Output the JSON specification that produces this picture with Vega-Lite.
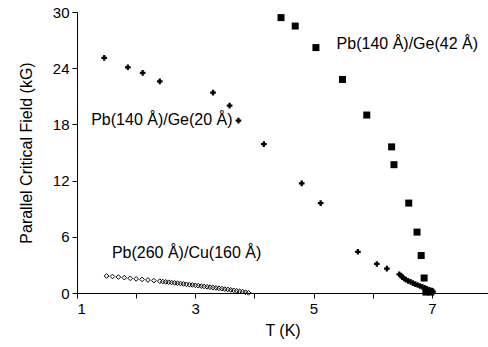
{
  "$schema": "https://vega.github.io/schema/vega-lite/v6.json",
  "width": 411,
  "height": 281,
  "autosize": "none",
  "padding": {"left": 77, "top": 12, "right": 0, "bottom": 54},
  "background": "white",
  "config": {
    "view": {"stroke": null},
    "font": "Liberation Sans",
    "axis": {
      "domainColor": "black",
      "tickColor": "black",
      "labelColor": "black",
      "titleColor": "black",
      "labelFont": "Liberation Sans",
      "titleFont": "Liberation Sans",
      "labelFontSize": 15,
      "titleFontSize": 16,
      "titleFontWeight": "normal",
      "grid": false,
      "tickSize": 5
    }
  },
  "datasets": {
    "pts": [
      {"T": 1.46, "H": 25.1, "s": "Ge20"},
      {"T": 1.86, "H": 24.1, "s": "Ge20"},
      {"T": 2.11, "H": 23.5, "s": "Ge20"},
      {"T": 2.40, "H": 22.6, "s": "Ge20"},
      {"T": 3.30, "H": 21.4, "s": "Ge20"},
      {"T": 3.58, "H": 20.0, "s": "Ge20"},
      {"T": 3.73, "H": 18.4, "s": "Ge20"},
      {"T": 4.16, "H": 15.9, "s": "Ge20"},
      {"T": 4.80, "H": 11.7, "s": "Ge20"},
      {"T": 5.12, "H": 9.6, "s": "Ge20"},
      {"T": 5.75, "H": 4.4, "s": "Ge20"},
      {"T": 6.07, "H": 3.1, "s": "Ge20"},
      {"T": 6.24, "H": 2.6, "s": "Ge20"},
      {"T": 6.45, "H": 2.0, "s": "Ge20"},
      {"T": 6.48, "H": 1.85, "s": "Ge20"},
      {"T": 6.50, "H": 1.7, "s": "Ge20"},
      {"T": 6.53, "H": 1.55, "s": "Ge20"},
      {"T": 6.56, "H": 1.42, "s": "Ge20"},
      {"T": 6.60, "H": 1.3, "s": "Ge20"},
      {"T": 6.64, "H": 1.18, "s": "Ge20"},
      {"T": 6.68, "H": 1.06, "s": "Ge20"},
      {"T": 6.72, "H": 0.95, "s": "Ge20"},
      {"T": 6.76, "H": 0.85, "s": "Ge20"},
      {"T": 6.80, "H": 0.75, "s": "Ge20"},
      {"T": 6.84, "H": 0.65, "s": "Ge20"},
      {"T": 6.88, "H": 0.55, "s": "Ge20"},
      {"T": 6.92, "H": 0.45, "s": "Ge20"},
      {"T": 6.96, "H": 0.35, "s": "Ge20"},
      {"T": 7.00, "H": 0.25, "s": "Ge20"},
      {"T": 7.02, "H": 0.15, "s": "Ge20"},
      {"T": 4.45, "H": 29.4, "s": "Ge42"},
      {"T": 4.69, "H": 28.5, "s": "Ge42"},
      {"T": 5.04, "H": 26.2, "s": "Ge42"},
      {"T": 5.49, "H": 22.8, "s": "Ge42"},
      {"T": 5.90, "H": 19.0, "s": "Ge42"},
      {"T": 6.32, "H": 15.6, "s": "Ge42"},
      {"T": 6.36, "H": 13.7, "s": "Ge42"},
      {"T": 6.61, "H": 9.6, "s": "Ge42"},
      {"T": 6.75, "H": 6.5, "s": "Ge42"},
      {"T": 6.82, "H": 4.0, "s": "Ge42"},
      {"T": 6.87, "H": 1.6, "s": "Ge42"},
      {"T": 6.90, "H": 0.1, "s": "Ge42"},
      {"T": 6.98, "H": 0.1, "s": "Ge42"},
      {"T": 1.50, "H": 1.82, "s": "Cu"},
      {"T": 1.60, "H": 1.76, "s": "Cu"},
      {"T": 1.70, "H": 1.70, "s": "Cu"},
      {"T": 1.80, "H": 1.64, "s": "Cu"},
      {"T": 1.90, "H": 1.57, "s": "Cu"},
      {"T": 2.00, "H": 1.51, "s": "Cu"},
      {"T": 2.10, "H": 1.45, "s": "Cu"},
      {"T": 2.20, "H": 1.39, "s": "Cu"},
      {"T": 2.30, "H": 1.32, "s": "Cu"},
      {"T": 2.40, "H": 1.26, "s": "Cu"},
      {"T": 2.45, "H": 1.22, "s": "Cu"},
      {"T": 2.50, "H": 1.19, "s": "Cu"},
      {"T": 2.55, "H": 1.15, "s": "Cu"},
      {"T": 2.60, "H": 1.12, "s": "Cu"},
      {"T": 2.65, "H": 1.08, "s": "Cu"},
      {"T": 2.70, "H": 1.04, "s": "Cu"},
      {"T": 2.75, "H": 1.01, "s": "Cu"},
      {"T": 2.80, "H": 0.97, "s": "Cu"},
      {"T": 2.85, "H": 0.93, "s": "Cu"},
      {"T": 2.90, "H": 0.89, "s": "Cu"},
      {"T": 2.95, "H": 0.86, "s": "Cu"},
      {"T": 3.00, "H": 0.82, "s": "Cu"},
      {"T": 3.05, "H": 0.78, "s": "Cu"},
      {"T": 3.10, "H": 0.74, "s": "Cu"},
      {"T": 3.15, "H": 0.70, "s": "Cu"},
      {"T": 3.20, "H": 0.66, "s": "Cu"},
      {"T": 3.25, "H": 0.62, "s": "Cu"},
      {"T": 3.30, "H": 0.58, "s": "Cu"},
      {"T": 3.35, "H": 0.54, "s": "Cu"},
      {"T": 3.40, "H": 0.50, "s": "Cu"},
      {"T": 3.45, "H": 0.46, "s": "Cu"},
      {"T": 3.50, "H": 0.42, "s": "Cu"},
      {"T": 3.55, "H": 0.38, "s": "Cu"},
      {"T": 3.60, "H": 0.33, "s": "Cu"},
      {"T": 3.65, "H": 0.29, "s": "Cu"},
      {"T": 3.70, "H": 0.24, "s": "Cu"},
      {"T": 3.75, "H": 0.19, "s": "Cu"},
      {"T": 3.80, "H": 0.14, "s": "Cu"},
      {"T": 3.85, "H": 0.08, "s": "Cu"},
      {"T": 3.90, "H": 0.02, "s": "Cu"}
    ],
    "labels": [
      {"T": 1.24, "H": 18.5, "label": "Pb(140 Å)/Ge(20 Å)"},
      {"T": 5.39, "H": 26.6, "label": "Pb(140 Å)/Ge(42 Å)"},
      {"T": 1.59, "H": 4.3, "label": "Pb(260 Å)/Cu(160 Å)"}
    ]
  },
  "encoding": {
    "x": {
      "field": "T",
      "type": "quantitative",
      "scale": {"domain": [1, 7.95], "nice": false, "zero": false},
      "axis": {
        "title": "T (K)",
        "values": [1, 2, 3, 4, 5, 6, 7],
        "labelExpr": "datum.value % 2 == 1 ? datum.label : ''",
        "labelPadding": 3,
        "titlePadding": 6
      }
    },
    "y": {
      "field": "H",
      "type": "quantitative",
      "scale": {"domain": [0, 30], "nice": false},
      "axis": {
        "title": "Parallel Critical Field (kG)",
        "values": [0, 6, 12, 18, 24, 30],
        "labelPadding": 3,
        "titlePadding": 18
      }
    }
  },
  "layer": [
    {
      "mark": {"type": "rule", "color": "black", "strokeWidth": 1.5},
      "encoding": {"y": {"datum": 30}, "x": {"datum": 1}, "x2": {"datum": 7.95}}
    },
    {
      "data": {"name": "pts"},
      "transform": [{"filter": "datum.s == 'Ge20'"}],
      "mark": {"type": "point", "shape": "cross", "filled": true, "color": "black", "size": 32, "opacity": 1}
    },
    {
      "data": {"name": "pts"},
      "transform": [{"filter": "datum.s == 'Ge42'"}],
      "mark": {"type": "square", "filled": true, "color": "black", "size": 49, "opacity": 1}
    },
    {
      "data": {"name": "pts"},
      "transform": [{"filter": "datum.s == 'Cu'"}],
      "mark": {"type": "point", "shape": "diamond", "filled": false, "color": "black", "size": 22, "strokeWidth": 1, "opacity": 1}
    },
    {
      "data": {"name": "labels"},
      "mark": {"type": "text", "align": "left", "baseline": "middle", "font": "Liberation Sans", "fontSize": 16, "color": "black"},
      "encoding": {"text": {"field": "label"}}
    }
  ]
}
